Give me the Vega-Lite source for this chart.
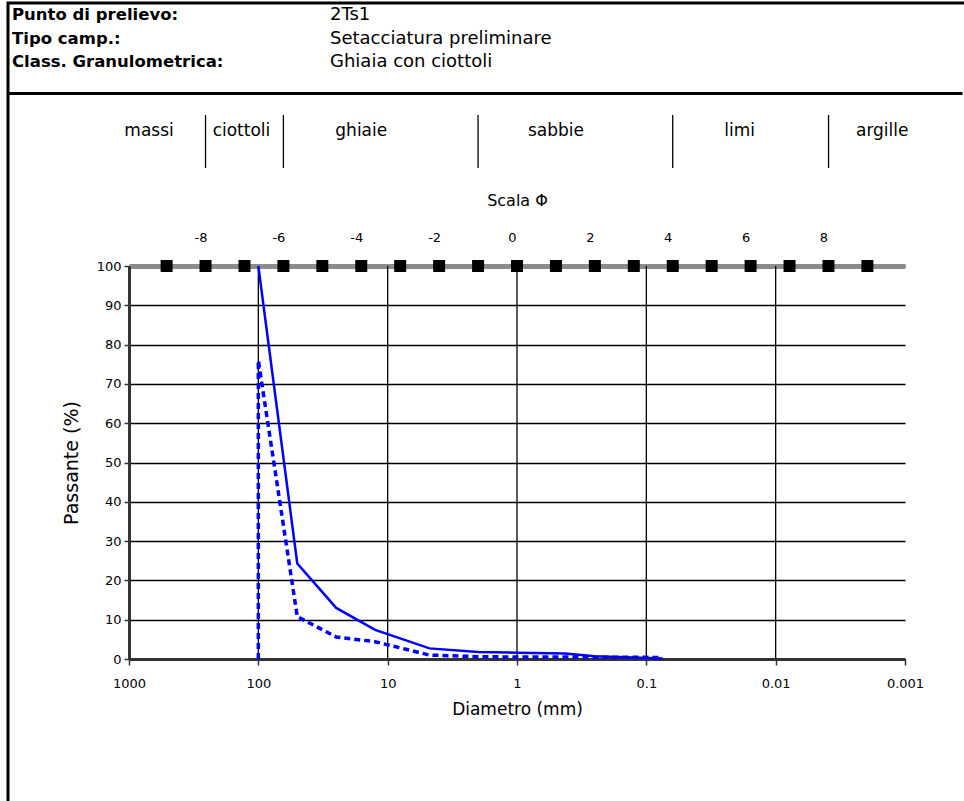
{
  "$schema": "https://vega.github.io/schema/vega-lite/v6.json",
  "width": 966,
  "height": 800,
  "autosize": {"type": "none"},
  "padding": {"left": 8, "top": 3, "right": 0, "bottom": 0},
  "background": "white",
  "config": {
    "view": {"stroke": "black", "strokeWidth": 3},
    "font": "DejaVu Sans",
    "text": {"font": "DejaVu Sans", "color": "black"},
    "axis": {"labelFont": "DejaVu Sans", "titleFont": "DejaVu Sans", "labelColor": "black", "titleColor": "black", "titleFontWeight": "normal"}
  },
  "layer": [
    {
      "data": {"values": [
        {"row": "r1", "label": "Punto di prelievo:", "value": "2Ts1"},
        {"row": "r2", "label": "Tipo camp.:", "value": "Setacciatura preliminare"},
        {"row": "r3", "label": "Class. Granulometrica:", "value": "Ghiaia con ciottoli"}
      ]},
      "encoding": {
        "y": {"field": "row", "type": "nominal", "scale": {"type": "point", "domain": ["r1", "r2", "r3"], "range": [12, 59], "padding": 0}, "axis": null}
      },
      "layer": [
        {
          "mark": {"type": "text", "align": "left", "baseline": "middle", "dx": 4, "fontSize": 16.5, "fontWeight": "bold"},
          "encoding": {
            "x": {"datum": 0, "type": "quantitative", "scale": {"domain": [0, 3], "range": [0, 954], "nice": false, "zero": false},
                  "axis": {"orient": "top", "offset": -90, "domainColor": "black", "domainWidth": 3, "ticks": false, "labels": false, "grid": false, "title": null}},
            "text": {"field": "label"}
          }
        },
        {
          "mark": {"type": "text", "align": "left", "baseline": "middle", "dx": 4, "fontSize": 18},
          "encoding": {
            "x": {"datum": 1, "type": "quantitative"},
            "text": {"field": "value"}
          }
        }
      ]
    },
    {
      "layer": [
        {
          "data": {"values": [{"d": 256}, {"d": 64}, {"d": 2}, {"d": 0.0625}, {"d": 0.0039}]},
          "mark": {"type": "rule", "color": "black", "strokeWidth": 1.3},
          "encoding": {
            "x": {"field": "d", "type": "quantitative", "scale": {"type": "log", "domain": [1000, 0.001], "range": [121, 897]}, "axis": null},
            "y": {"datum": 0, "type": "quantitative", "scale": {"domain": [0, 1], "range": [165, 112], "nice": false, "zero": false}, "axis": null},
            "y2": {"datum": 1}
          }
        },
        {
          "data": {"values": [
            {"cls": "massi", "d": 700},
            {"cls": "ciottoli", "d": 135},
            {"cls": "ghiaie", "d": 16},
            {"cls": "sabbie", "d": 0.5},
            {"cls": "limi", "d": 0.019},
            {"cls": "argille", "d": 0.0015}
          ]},
          "mark": {"type": "text", "fontSize": 17, "baseline": "middle", "align": "center"},
          "encoding": {
            "x": {"field": "d", "type": "quantitative"},
            "y": {"datum": 0.7, "type": "quantitative"},
            "text": {"field": "cls"}
          }
        }
      ]
    },
    {
      "data": {"values": [
        {"phi": -9}, {"phi": -8}, {"phi": -7}, {"phi": -6}, {"phi": -5}, {"phi": -4}, {"phi": -3}, {"phi": -2}, {"phi": -1},
        {"phi": 0}, {"phi": 1}, {"phi": 2}, {"phi": 3}, {"phi": 4}, {"phi": 5}, {"phi": 6}, {"phi": 7}, {"phi": 8}, {"phi": 9}
      ]},
      "mark": {"type": "square", "size": 144, "color": "black", "opacity": 1},
      "encoding": {
        "x": {"field": "phi", "type": "quantitative",
              "scale": {"domain": [-9.966, 9.966], "range": [121, 897], "nice": false, "zero": false},
              "axis": {"orient": "top", "offset": -263, "values": [-8, -6, -4, -2, 0, 2, 4, 6, 8],
                       "labelExpr": "toString(datum.value)",
                       "domainColor": "#8c8c8c", "domainWidth": 5, "ticks": false, "tickSize": 0,
                       "labelPadding": 22, "labelFontSize": 13, "labelOffset": -5, "labelFlush": false,
                       "grid": false, "title": "Scala Φ", "titleFontSize": 16, "titlePadding": 23}},
        "y": {"datum": 100, "type": "quantitative", "scale": {"domain": [0, 100], "range": [656, 263], "nice": false, "zero": false}, "axis": null}
      }
    },
    {
      "encoding": {
        "x": {"field": "d", "type": "quantitative",
              "scale": {"type": "log", "domain": [1000, 0.001], "range": [121, 897]},
              "axis": {"orient": "bottom", "offset": -144, "values": [1000, 100, 10, 1, 0.1, 0.01, 0.001], "format": "~g",
                       "grid": false,
                       "domainColor": "#333333", "domainWidth": 3, "tickColor": "#333333", "tickWidth": 1.5, "tickSize": 6,
                       "labelPadding": 12, "labelFontSize": 13, "labelOverlap": false, "labelFlush": false,
                       "title": "Diametro (mm)", "titleFontSize": 17, "titlePadding": 11}},
        "y": {"field": "p", "type": "quantitative",
              "scale": {"domain": [0, 100], "range": [656, 263], "nice": false, "zero": false},
              "axis": {"orient": "left", "offset": -121, "values": [0, 10, 20, 30, 40, 50, 60, 70, 80, 90, 100],
                       "grid": true, "gridColor": "black", "gridWidth": 1.3,
                       "domainColor": "#333333", "domainWidth": 3, "tickColor": "#333333", "tickWidth": 1.5, "tickSize": 5,
                       "labelPadding": 3, "labelFontSize": 13, "labelOverlap": false, "labelFlush": false,
                       "title": "Passante (%)", "titleFontSize": 19, "titlePadding": 15}}
      },
      "layer": [
        {
          "data": {"values": [{"d": 100, "lo": 0, "hi": 100}, {"d": 10, "lo": 0, "hi": 100}, {"d": 1, "lo": 0, "hi": 100}, {"d": 0.1, "lo": 0, "hi": 100}, {"d": 0.01, "lo": 0, "hi": 100}]},
          "mark": {"type": "rule", "color": "black", "strokeWidth": 1.3},
          "encoding": {
            "y": {"field": "lo", "type": "quantitative"},
            "y2": {"field": "hi"}
          }
        },
        {
          "data": {"values": [
            {"d": 100, "p": 100},
            {"d": 50, "p": 24.3},
            {"d": 25, "p": 13},
            {"d": 12.5, "p": 7.4},
            {"d": 4.75, "p": 2.7},
            {"d": 2, "p": 1.8},
            {"d": 1, "p": 1.6},
            {"d": 0.425, "p": 1.4},
            {"d": 0.25, "p": 0.7},
            {"d": 0.075, "p": 0.1}
          ]},
          "mark": {"type": "line", "color": "#0000ff", "strokeWidth": 2.5}
        },
        {
          "data": {"values": [
            {"i": 1, "d": 100, "p": 0},
            {"i": 2, "d": 100, "p": 76},
            {"i": 3, "d": 50, "p": 10.8},
            {"i": 4, "d": 25, "p": 5.6},
            {"i": 5, "d": 12.5, "p": 4.4},
            {"i": 6, "d": 4.75, "p": 1.0},
            {"i": 7, "d": 2, "p": 0.6},
            {"i": 8, "d": 1, "p": 0.5},
            {"i": 9, "d": 0.425, "p": 0.5},
            {"i": 10, "d": 0.075, "p": 0.4}
          ]},
          "mark": {"type": "line", "color": "#0000ff", "strokeWidth": 3.5, "strokeDash": [6, 4]},
          "encoding": {"order": {"field": "i", "type": "quantitative"}}
        },
        {
          "data": {"values": [{"edge": 0.001}]},
          "mark": {"type": "rule", "color": "#8c8c8c", "strokeWidth": 4},
          "encoding": {
            "x": {"field": "edge", "type": "quantitative"},
            "y": {"datum": 0},
            "y2": {"datum": 100}
          }
        }
      ]
    }
  ],
  "resolve": {"scale": {"x": "independent", "y": "independent"}}
}
